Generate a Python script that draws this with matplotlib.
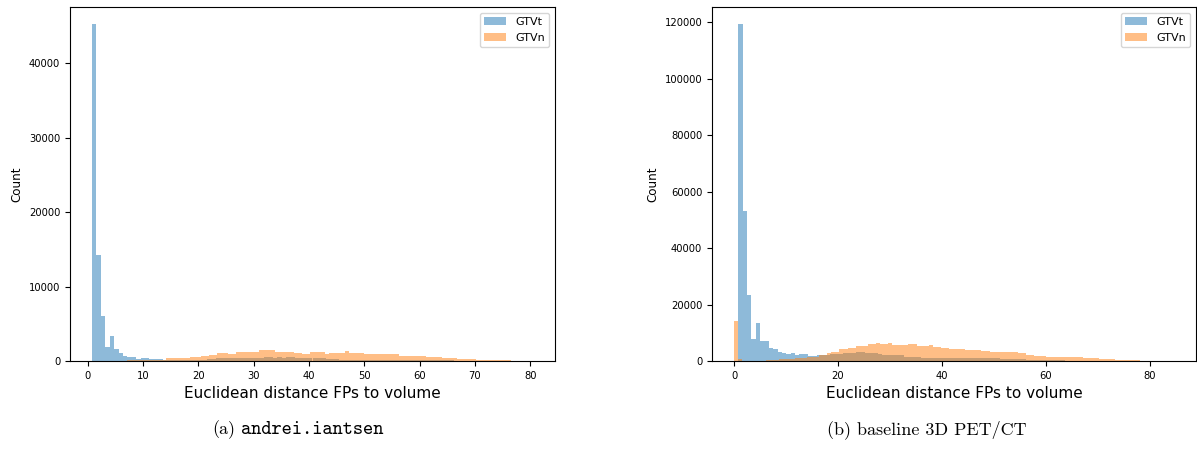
import numpy as np
import matplotlib
matplotlib.use("Agg")
import matplotlib.pyplot as plt

# histogram counts (100 bins per series)
left_t_range = (0.8, 80.5)
left_t_counts = [45300, 14300, 6050, 1830, 3350, 1560, 1110, 670, 500, 500,
                 230, 400, 400, 230, 230, 230, 130, 110, 100, 100,
                 100, 110, 120, 140, 160, 200, 250, 300, 350, 400,
                 400, 360, 360, 360, 360, 360, 360, 360, 360, 580,
                 580, 360, 580, 360, 580, 580, 360, 360, 360, 360,
                 360, 360, 360, 270, 270, 270, 130, 130, 130, 130,
                 130, 130, 150, 180, 180, 180, 180, 180, 180, 180,
                 180, 170, 160, 150, 120, 100, 100, 100, 100, 90,
                 80, 70, 60, 50, 50, 40, 40, 30, 30, 30,
                 20, 20, 20, 10, 10, 10, 10, 5, 5, 5]

left_n_range = (6.5, 76.6)
left_n_counts = [60, 70, 80, 90, 100, 110, 120, 130, 140, 150,
                 170, 360, 360, 360, 360, 360, 360, 480, 480, 480,
                 700, 700, 850, 850, 1100, 1100, 1100, 1000, 1000, 1150,
                 1250, 1250, 1250, 1250, 1250, 1470, 1470, 1470, 1470, 1250,
                 1250, 1250, 1250, 1250, 1115, 1115, 940, 940, 1160, 1160,
                 1160, 1160, 940, 1115, 1115, 1115, 1115, 1340, 1115, 1115,
                 1115, 1115, 940, 940, 940, 890, 890, 890, 890, 890,
                 890, 715, 715, 715, 715, 715, 715, 715, 535, 535,
                 535, 535, 400, 400, 400, 400, 270, 270, 270, 270,
                 270, 130, 130, 130, 130, 130, 130, 90, 90, 130]

right_t_range = (0.84, 84.6)
right_t_counts = [119500, 53300, 23400, 7650, 13300, 7180, 7180, 4470, 4120, 3300,
                  2940, 2470, 2940, 2120, 2470, 2470, 1770, 1770, 2120, 2000,
                  2000, 2470, 2470, 2470, 2700, 2940, 2940, 3300, 3300, 2940,
                  2710, 2710, 2350, 2120, 2120, 2120, 2120, 2120, 1530, 1530,
                  1530, 1530, 1180, 940, 940, 940, 1180, 1180, 1180, 1180,
                  1180, 1180, 940, 940, 940, 940, 940, 940, 940, 940,
                  800, 750, 700, 650, 600, 590, 500, 450, 400, 350,
                  300, 250, 220, 200, 180, 160, 140, 120, 80, 60,
                  50, 40, 30, 30, 20, 20, 20, 10, 10, 10,
                  10, 10, 5, 5, 5, 5, 5, 5, 5, 5]

right_n_range = (0.0, 78.0)
right_n_counts = [14100, 590, 150, 100, 100, 100, 120, 150, 180, 200,
                  230, 590, 590, 590, 590, 940, 940, 940, 1530, 1530,
                  1530, 2120, 2120, 2700, 3300, 3300, 4120, 4120, 4700, 4700,
                  5300, 5300, 5300, 5900, 6000, 6240, 5900, 5900, 6240, 5650,
                  5650, 5650, 5650, 5900, 5900, 5300, 5300, 5300, 5530, 4830,
                  4830, 4470, 4470, 4120, 4120, 4120, 4120, 3880, 3880, 3880,
                  3880, 3530, 3530, 3060, 3060, 3060, 3060, 3060, 3060, 3060,
                  2710, 2710, 2120, 2120, 1770, 1770, 1770, 1530, 1530, 1530,
                  1530, 1530, 1530, 1530, 1530, 1530, 940, 940, 940, 940,
                  590, 590, 590, 590, 235, 235, 235, 235, 235, 235]

series_labels = ["GTVt", "GTVn"]

plt.rcParams["font.size"] = 7.2


def draw_hist(ax, rng, counts, label):
    edges = np.linspace(rng[0], rng[1], len(counts) + 1)
    ax.hist(edges[:-1], bins=edges, weights=counts, alpha=0.5, label=label)


fig = plt.figure(figsize=(11.97, 4.58), dpi=100)
ax1 = fig.add_axes([70 / 1197, 97 / 458, 485 / 1197, 354 / 458])
ax2 = fig.add_axes([712 / 1197, 97 / 458, 484 / 1197, 354 / 458])

panels = [
    (ax1, [(left_t_range, left_t_counts), (left_n_range, left_n_counts)]),
    (ax2, [(right_t_range, right_t_counts), (right_n_range, right_n_counts)]),
]

for ax, series in panels:
    for (rng, counts), lab in zip(series, series_labels):
        draw_hist(ax, rng, counts, lab)
    ax.set_xlabel("Euclidean distance FPs to volume", fontsize=11)
    ax.set_ylabel("Count", fontsize=8.6)
    ax.legend(loc="upper right", fontsize=8)

ax1.set_yticks([0, 10000, 20000, 30000, 40000])
ax2.set_xticks([0, 20, 40, 60, 80])

# sub-figure captions as in the paper (serif + typewriter)
cap_y = 0.061
fig.text(235 / 1197, cap_y, "(a)", ha="right", va="center",
         fontsize=13, family="cmr10")
fig.text(241 / 1197, cap_y, "andrei.iantsen", ha="left", va="center",
         fontsize=14, family="cmtt10")
fig.text(927 / 1197, cap_y, "(b) baseline 3D PET/CT", ha="center", va="center",
         fontsize=13, family="cmr10")

fig.savefig("out.png", dpi=100)
